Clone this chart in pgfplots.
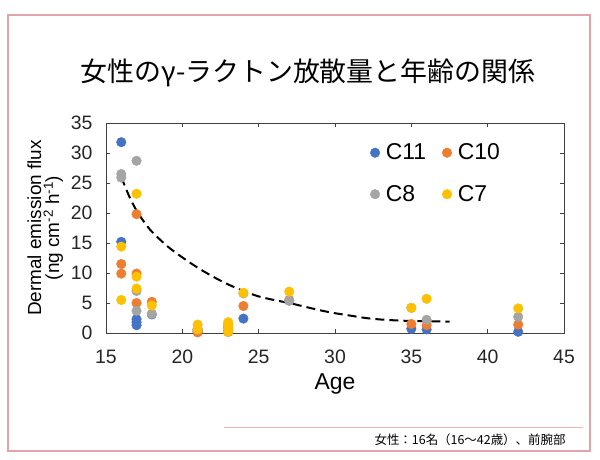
\documentclass[border=0pt]{standalone}
\usepackage{pgfplots}
\pgfplotsset{compat=1.18}
\usepackage{fontspec}
\setmainfont{Liberation Sans}
\newfontfamily\cjk{Noto Sans CJK JP}
\definecolor{cA}{HTML}{4472C4}
\definecolor{cB}{HTML}{ED7D31}
\definecolor{cC}{HTML}{A5A5A5}
\definecolor{cD}{HTML}{FFC000}
\definecolor{frame}{HTML}{E3A3AA}
\begin{document}
\begin{tikzpicture}[x=1bp,y=1bp]
\useasboundingbox (0,0) rectangle (600,-460);
\fill[white] (0,0) rectangle (600,-460);
\draw[frame, line width=1.5bp] (8,-15) rectangle (590,-451);
\draw[frame!80, line width=1bp] (224,-427) -- (583,-427);
\node[font=\cjk\fontsize{27}{30}\selectfont, anchor=center] at (308,-73) {女性のγ-ラクトン放散量と年齢の関係};
\node[font=\cjk\fontsize{12.5}{14}\selectfont, anchor=east] at (569,-440) {女性：16名（16～42歳）、前腕部};
\begin{axis}[
  at={(106bp,-333bp)}, anchor=south west,
  scale only axis, width=458bp, height=210bp,
  xmin=15, xmax=45, ymin=0, ymax=35,
  xtick={15,20,...,45}, ytick={0,5,...,35},
  tick align=inside, major tick length=4bp,
  axis line style={black!75, line width=0.8bp},
  tick style={black!75, line width=0.8bp},
  /pgf/number format/assume math mode=true,
  tick label style={font=\fontsize{19.5}{22}\selectfont, text=black!85},
  xticklabel style={yshift=-13.5bp},
  yticklabel style={xshift=-10bp},
  xlabel={Age},
  xlabel style={font=\fontsize{23}{26}\selectfont, yshift=-3.5bp},
  ylabel={Dermal emission flux\\(ng cm\textsuperscript{-2} h\textsuperscript{-1})},
  ylabel style={font=\fontsize{19}{18}\selectfont, align=center, yshift=1bp},
  legend columns=2,
  legend style={draw=none, fill=none, at={(0.57,0.92)}, anchor=north west,
    font=\fontsize{23}{25}\selectfont, row sep=20bp,
    /tikz/every odd column/.append style={column sep=4bp},
    /tikz/every even column/.append style={column sep=14bp}},
  legend cell align=left,
]
\addplot[only marks, mark=*, mark size=4.8bp, color=cA] coordinates {
(16,31.8) (16,15.2) (17,2.3) (17,1.3) (17,1.8) (18,3.1) (21,0.3) (21,0.5)
(23,0.2) (23,0.5) (23,0.8) (23,1.0) (24,2.4) (27,5.4) (35,0.7) (36,0.6) (42,0.2)};
\addlegendentry{C11}
\addplot[only marks, mark=*, mark size=4.8bp, color=cB] coordinates {
(16,11.5) (16,9.9) (17,19.8) (17,9.9) (17,5.0) (18,5.2) (21,0.1) (21,0.3)
(23,0.2) (23,0.4) (23,0.6) (23,0.9) (24,4.5) (27,5.5) (35,1.5) (36,1.3) (42,1.4)};
\addlegendentry{C10}
\addplot[only marks, mark=*, mark size=4.8bp, color=cC] coordinates {
(16,26.5) (16,25.9) (17,28.7) (17,7.0) (17,3.7) (18,3.2) (21,0.6) (21,0.7)
(23,0.5) (23,0.8) (23,1.1) (23,1.4) (24,6.6) (27,5.4) (35,4.2) (36,2.2) (42,2.7)};
\addlegendentry{C8}
\addplot[only marks, mark=*, mark size=4.8bp, color=cD] coordinates {
(16,14.4) (16,5.5) (17,23.2) (17,9.4) (17,7.4) (18,4.6) (21,1.4) (21,0.6)
(23,1.8) (23,1.2) (23,0.7) (23,0.2) (24,6.7) (27,6.9) (35,4.2) (36,5.7) (42,4.1)};
\addlegendentry{C7}
\addplot[black, line width=2bp, dash pattern=on 9bp off 5bp, smooth, forget plot] coordinates {
(16,26.0) (16.5,22.9) (17,20.4) (17.5,18.5) (18,16.9) (19,14.5) (20,12.6)
(21,10.9) (22,9.4) (23,8.1) (24,7.0) (25,6.1) (26,5.5) (27,5.0) (28,4.4)
(29,3.8) (30,3.3) (31,2.9) (32,2.5) (33,2.25) (34,2.1) (35,2.0) (36,1.95) (37.5,1.9)};
\end{axis}
\end{tikzpicture}
\end{document}
